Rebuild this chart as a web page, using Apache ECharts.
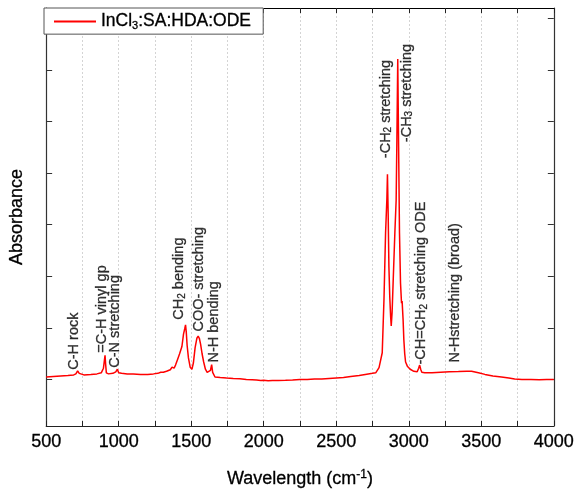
<!DOCTYPE html>
<html>
<head>
<meta charset="utf-8">
<script src="https://cdn.jsdelivr.net/npm/echarts@6/dist/echarts.min.js"></script>
<style>
html,body{margin:0;padding:0;background:#fff;}
#chart{width:577px;height:495px;}
</style>
</head>
<body>
<div id="chart"></div>
<script>
// Wavenumber (cm-1) and absorbance
var wavenumbers = [500,550,600,650,690,705,717,728,760,808,850,880,895,902,906,910,915,930,960,980,991,1000,1020,1059,1100,1151,1200,1240,1270,1290,1308,1330,1356,1368,1375,1382,1392,1406,1420,1436,1447,1455,1461,1466,1472,1481,1493,1505,1515,1527,1539,1548,1556,1565,1575,1586,1598,1610,1622,1633,1641,1648,1664,1700,1744,1790,1836,1880,1920,1950,1980,2000,2030,2060,2100,2150,2199,2250,2300,2350,2400,2450,2500,2550,2600,2658,2700,2750,2772,2795,2817,2829,2840,2849,2853,2858,2863,2869,2875,2879,2885,2892,2904,2913,2918,2924,2930,2936,2943,2950,2954,2957,2961,2966,2972,2978,2990,3000,3010,3022,3035,3045,3058,3068,3075,3082,3090,3110,3160,3220,3280,3342,3400,3433,3480,3525,3580,3639,3690,3730,3780,3842,3900,3950,4000];
var absorbance = [0.05,0.06,0.07,0.08,0.09,0.11,0.17,0.12,0.09,0.10,0.11,0.13,0.22,0.38,0.47,0.30,0.13,0.11,0.12,0.15,0.20,0.13,0.12,0.11,0.11,0.10,0.10,0.11,0.12,0.14,0.14,0.16,0.19,0.24,0.27,0.22,0.28,0.39,0.50,0.64,0.88,0.98,1.06,0.92,0.66,0.42,0.24,0.20,0.32,0.62,0.80,0.84,0.80,0.68,0.50,0.34,0.20,0.14,0.13,0.18,0.29,0.14,0.05,0.04,0.03,0.02,0.015,0.0,-0.005,-0.01,-0.02,-0.015,-0.025,-0.02,-0.02,-0.015,-0.01,0.0,0.0,0.01,0.01,0.02,0.03,0.04,0.06,0.08,0.10,0.12,0.13,0.23,0.52,1.55,2.84,3.50,3.98,3.20,2.19,1.60,1.22,1.04,1.30,1.87,2.84,3.48,4.64,6.21,4.50,2.84,1.87,1.48,1.52,1.50,1.15,0.77,0.50,0.34,0.26,0.23,0.20,0.18,0.16,0.14,0.15,0.22,0.28,0.20,0.14,0.13,0.13,0.14,0.15,0.155,0.16,0.16,0.13,0.10,0.07,0.05,0.03,0.01,0.0,0.0,-0.005,0.0,0.0];

// Peak annotations (anchor = start of rotated text)
var annX = [692,888,973,1418,1555,1658,2840,2986,3087,3320];
var annY = [0.19,0.52,0.23,1.16,0.93,0.33,4.29,4.60,0.29,0.33];
var annText = ['C-H rock','=C-H vinyl gp','C-N stretching','CH{sub|2} bending','COO- stretching','N-H bending','-CH{sub|2} stretching','-CH{sub|3} stretching','-CH=CH{sub|2} stretching ODE','N-Hstretching (broad)'];

var xTicks = [500,1000,1500,2000,2500,3000,3500,4000];
var yTicks = [0,1,2,3,4,5,6,7];
var seriesName = 'InCl3:SA:HDA:ODE';

var FONT = 'Liberation Sans, Arial, sans-serif';
var chart = echarts.init(document.getElementById('chart'));

var xBase = {
  type: 'value', min: xTicks[0], max: xTicks[xTicks.length-1], interval: 500,
  axisLine: {show: true, onZero: false, lineStyle: {color: '#222', width: 1}},
  axisTick: {show: true, inside: true, length: 5, lineStyle: {color: '#222'}},
  minorTick: {show: true, splitNumber: 2, length: 5, lineStyle: {color: '#222'}},
  splitLine: {show: false},
  minorSplitLine: {show: false}
};
var yBase = {
  type: 'value', min: -0.9, max: 7.2,
  axisLine: {show: true, onZero: false, lineStyle: {color: '#333', width: 1.2}},
  axisTick: {show: true, inside: true, length: 6, customValues: yTicks, lineStyle: {color: '#333'}},
  axisLabel: {show: false},
  splitLine: {show: false}
};
var darken = {textBorderColor: '#000', textBorderWidth: 0.3};

var option = {
  animation: false,
  backgroundColor: '#fff',
  textStyle: {fontFamily: FONT},
  grid: {left: 45, right: 21, top: 8, bottom: 69, containLabel: false},
  legend: {
    left: 44, top: 8,
    data: [seriesName],
    icon: 'rect',
    itemWidth: 42, itemHeight: 2,
    padding: [4, 12, 3, 10],
    borderColor: '#555', borderWidth: 1, backgroundColor: '#fff',
    formatter: function(){ return 'InCl{sub|3}:SA:HDA:ODE'; },
    textStyle: Object.assign({fontSize: 17.5, color: '#000', fontFamily: FONT, lineHeight: 19,
      rich: {sub: Object.assign({fontSize: 11, lineHeight: 6, verticalAlign: 'bottom', fontFamily: FONT, color: '#000'}, darken)}}, darken)
  },
  xAxis: [
    Object.assign({}, xBase, {
      position: 'bottom',
      name: 'Wavelength (cm{sup|-1})', nameLocation: 'middle', nameGap: 43,
      nameTextStyle: Object.assign({fontSize: 18, color: '#000', fontFamily: FONT, lineHeight: 20,
        rich: {sup: Object.assign({fontSize: 12, lineHeight: 8, verticalAlign: 'top', fontFamily: FONT, color: '#000'}, darken)}}, darken),
      axisLabel: Object.assign({show: true, fontSize: 18, color: '#000', margin: 7, fontFamily: FONT,
        formatter: function(v){ return String(v); }}, darken),
      splitLine: {show: true, lineStyle: {color: '#d4d4d4', type: [2, 2], width: 1}},
      minorSplitLine: {show: true, lineStyle: {color: '#d4d4d4', type: [2, 2], width: 1}}
    }),
    Object.assign({}, xBase, {position: 'top', axisLabel: {show: false},
      axisLine: {show: true, onZero: false, lineStyle: {color: '#000', width: 1.2}}})
  ],
  yAxis: [
    Object.assign({}, yBase, {
      position: 'left',
      name: 'Absorbance', nameLocation: 'middle', nameGap: 20,
      nameTextStyle: Object.assign({fontSize: 18, color: '#000', fontFamily: FONT}, darken)
    }),
    Object.assign({}, yBase, {position: 'right'})
  ],
  series: [
    {
      name: seriesName, type: 'line', xAxisIndex: 0, yAxisIndex: 0,
      data: wavenumbers.map(function(w, i){ return [w, absorbance[i]]; }),
      symbol: 'none', showSymbol: false,
      lineStyle: {color: '#ff0000', width: 1.5},
      itemStyle: {color: '#ff0000'},
      z: 3
    },
    {
      name: 'annotations', type: 'scatter', xAxisIndex: 0, yAxisIndex: 0,
      data: annX.map(function(x, i){ return [x, annY[i], annText[i]]; }),
      symbolSize: 0, silent: true, z: 5,
      label: Object.assign({
        show: true, position: 'inside', rotate: 90, align: 'left', verticalAlign: 'middle',
        formatter: function(p){ return p.data[2]; },
        fontSize: 14.5, color: '#000', fontFamily: FONT, lineHeight: 16,
        rich: {sub: Object.assign({fontSize: 10, lineHeight: 6, verticalAlign: 'bottom', fontFamily: FONT, color: '#000'}, darken)}
      }, darken)
    }
  ]
};
chart.setOption(option);
</script>
</body>
</html>
